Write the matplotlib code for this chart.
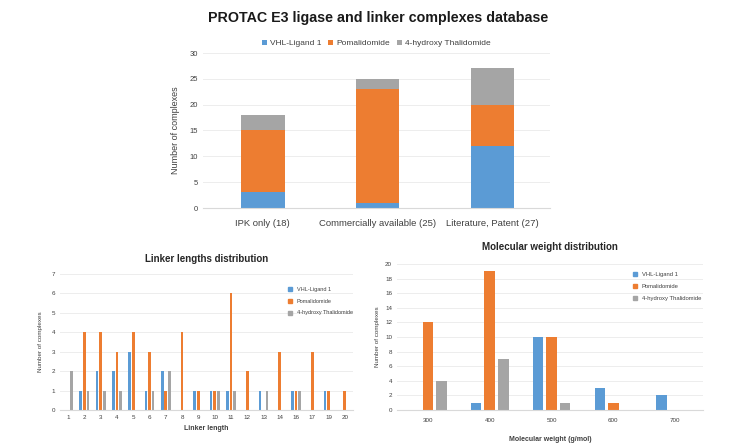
import matplotlib
matplotlib.use("Agg")
import matplotlib.pyplot as plt
from matplotlib.lines import Line2D
import numpy as np

plt.rcParams["font.family"] = ["Liberation Sans", "DejaVu Sans"]

series_names = ["VHL-Ligand 1", "Pomalidomide", "4-hydroxy Thalidomide"]
colors = ["#5B9BD5", "#ED7D31", "#A5A5A5"]

# top: source of complexes (stacked)
sources = ["IPK only (18)", "Commercially available (25)", "Literature, Patent (27)"]
src_vhl = [3, 1, 12]
src_pom = [12, 22, 8]
src_oh = [3, 2, 7]

# bottom left: linker length
linker_len = ["1", "2", "3", "4", "5", "6", "7", "8", "9", "10",
              "11", "12", "13", "14", "16", "17", "19", "20"]
len_vhl = [0, 1, 2, 2, 3, 1, 2, 0, 1, 1, 1, 0, 1, 0, 1, 0, 1, 0]
len_pom = [0, 4, 4, 3, 4, 3, 1, 4, 1, 1, 6, 2, 0, 3, 1, 3, 1, 1]
len_oh = [2, 1, 1, 1, 0, 1, 2, 0, 0, 1, 1, 0, 1, 0, 1, 0, 0, 0]

# bottom right: molecular weight
mw_bins = ["300", "400", "500", "600", "700"]
mw_vhl = [0, 1, 10, 3, 2]
mw_pom = [12, 19, 10, 1, 0]
mw_oh = [4, 7, 1, 0, 0]

W, H = 756, 444
fig = plt.figure(figsize=(W / 100, H / 100), dpi=100)


def px_axes(x0, y0, x1, y1):
    # pixel box (left, top, right, bottom) -> figure fraction
    return fig.add_axes([x0 / W, 1 - y1 / H, (x1 - x0) / W, (y1 - y0) / H])


def style(ax, tick_size):
    for s in ["top", "right", "left"]:
        ax.spines[s].set_visible(False)
    ax.spines["bottom"].set_color("#D9D9D9")
    ax.yaxis.grid(True, color="#EDEDED", linewidth=0.7)
    ax.set_axisbelow(True)
    ax.tick_params(length=0, labelsize=tick_size, colors="#404040")


fig.text(378 / W, 1 - 18 / H, "PROTAC E3 ligase and linker complexes database",
         ha="center", va="center", fontsize=10.3, fontweight="bold", color="#1a1a1a")

# ---- top stacked chart
ax = px_axes(203, 53, 550, 208)
x = np.arange(len(sources))
bw = 0.38
ax.bar(x, src_vhl, bw, color=colors[0], label=series_names[0])
ax.bar(x, src_pom, bw, bottom=src_vhl, color=colors[1], label=series_names[1])
ax.bar(x, src_oh, bw, bottom=np.add(src_vhl, src_pom), color=colors[2], label=series_names[2])
ax.set_xlim(-0.52, 2.5)
ax.set_ylim(0, 30)
ax.set_yticks(range(0, 31, 5))
style(ax, 5.5)
ax.set_xticks(x)
ax.set_xticklabels(sources, fontsize=6.8)
ax.tick_params(axis="x", pad=8)
ax.set_ylabel("Number of complexes", fontsize=6.5, color="#404040", labelpad=7)
ax.legend(loc="center", bbox_to_anchor=(0.5, 1.06), ncol=3, frameon=False,
          fontsize=6.0, handlelength=0.6, handleheight=0.6, columnspacing=0.8,
          handletextpad=0.4, labelcolor="#404040")

# ---- bottom left: linker lengths
ax = px_axes(60, 274, 353, 410)
x = np.arange(len(linker_len))
bw = 0.17
off = 0.22
ax.bar(x - off, len_vhl, bw, color=colors[0])
ax.bar(x, len_pom, bw, color=colors[1])
ax.bar(x + off, len_oh, bw, color=colors[2])
ax.set_xlim(-0.5, 17.5)
ax.set_ylim(0, 7)
ax.set_yticks(range(0, 8))
style(ax, 4.5)
ax.set_xticks(x)
ax.set_xticklabels(linker_len)
ax.set_xlabel("Linker length", fontsize=5, fontweight="bold", color="#404040")
ax.set_ylabel("Number of complexes", fontsize=4.5, color="#404040", labelpad=6)
ax.set_title("Linker lengths distribution", fontsize=7, fontweight="bold",
             color="#262626", pad=9)
handles = [Line2D([], [], marker="s", linestyle="", color=c, markersize=2.5) for c in colors]
ax.legend(handles, series_names, loc="upper left", bbox_to_anchor=(0.75, 0.94),
          frameon=False, fontsize=4.0, handletextpad=0.2, labelspacing=1.2,
          labelcolor="#404040")

# ---- bottom right: molecular weight
ax = px_axes(397, 264, 703, 410)
x = np.arange(len(mw_bins))
bw = 0.17
off = 0.22
ax.bar(x - off, mw_vhl, bw, color=colors[0])
ax.bar(x, mw_pom, bw, color=colors[1])
ax.bar(x + off, mw_oh, bw, color=colors[2])
ax.set_xlim(-0.5, 4.45)
ax.set_ylim(0, 20)
ax.set_yticks(range(0, 21, 2))
style(ax, 4.5)
ax.set_xticks(x)
ax.set_xticklabels(mw_bins)
ax.tick_params(axis="x", pad=6)
ax.set_xlabel("Molecular weight (g/mol)", fontsize=5, fontweight="bold",
              color="#404040", labelpad=9)
ax.set_ylabel("Number of complexes", fontsize=4.5, color="#404040", labelpad=4)
ax.set_title("Molecular weight distribution", fontsize=7, fontweight="bold",
             color="#262626", pad=10)
handles = [Line2D([], [], marker="s", linestyle="", color=c, markersize=2.5) for c in colors]
ax.legend(handles, series_names, loc="upper left", bbox_to_anchor=(0.74, 0.98),
          frameon=False, fontsize=4.2, handletextpad=0.2, labelspacing=1.2,
          labelcolor="#404040")

fig.savefig("out.png", dpi=100)
